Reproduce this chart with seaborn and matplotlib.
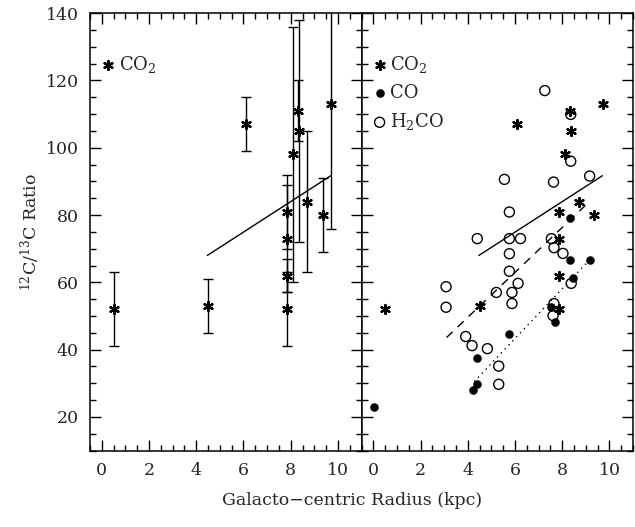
import matplotlib
matplotlib.use("Agg")
import matplotlib.pyplot as plt
import seaborn as sns
import pandas as pd
from matplotlib.ticker import MultipleLocator

# ---------------- data ----------------
co2_r = [0.5, 4.5, 6.1, 7.85, 7.85, 7.85, 7.85, 8.1, 8.33, 8.36, 8.7, 9.35, 9.72]
co2_ratio = [52, 53, 107, 52, 62, 73, 81, 98, 111, 105, 84, 80, 113]
co2_err = [11, 8, 8, 11, 5, 16, 11, 38, 9, 33, 21, 11, 37]

co_r = [0.04, 4.39, 4.20, 4.40, 5.76, 7.54, 7.68, 8.31, 8.47, 9.16, 8.31]
co_ratio = [23.0, 37.6, 27.9, 29.7, 44.7, 52.6, 48.1, 66.7, 61.4, 66.7, 79.1]

h2co_r = [7.26, 8.36, 8.36, 5.55, 7.63, 9.16, 5.76, 4.40, 5.76, 6.23, 7.54,
          7.65, 8.03, 5.76, 5.76, 6.13, 5.21, 5.87, 5.87, 3.08, 3.08, 7.65,
          7.61, 8.38, 3.91, 4.18, 4.83, 5.31, 5.31]
h2co_ratio = [117.0, 109.9, 96.0, 90.6, 89.8, 91.6, 80.9, 73.0, 73.0, 73.0, 73.0,
              70.3, 68.6, 68.5, 63.3, 59.7, 57.0, 57.0, 53.7, 58.7, 52.6, 53.7,
              50.1, 59.7, 43.9, 41.2, 40.3, 35.1, 29.7]

# fit lines (end points)
fit_co2_r = [4.47, 9.70]
fit_co2_ratio = [68.0, 91.7]
fit_h2co_r = [3.10, 9.15]
fit_h2co_ratio = [43.6, 84.0]
fit_co_r = [4.27, 9.16]
fit_co_ratio = [30.5, 66.7]

xticks = [0, 2, 4, 6, 8, 10]
yticks = [20, 40, 60, 80, 100, 120, 140]

# ---------------- style ----------------
sns.set_theme(style="ticks")
plt.rcParams["font.family"] = ["DejaVu Serif"]
plt.rcParams["mathtext.fontset"] = "dejavuserif"
plt.rcParams["axes.linewidth"] = 1.1

df_co2 = pd.DataFrame({"r": co2_r, "ratio": co2_ratio, "err": co2_err})
df_co = pd.DataFrame({"r": co_r, "ratio": co_ratio})
df_h2co = pd.DataFrame({"r": h2co_r, "ratio": h2co_ratio})

fig, axes = plt.subplots(1, 2, figsize=(6.35, 5.27), dpi=100, sharey=True)
fig.subplots_adjust(left=0.1417, right=0.997, top=0.975, bottom=0.145, wspace=0)

star = (6, 2, 0)
star_kw = dict(marker=star, color="black", s=42, linewidth=1.6)

# left panel
ax = axes[0]
ax.errorbar(df_co2["r"], df_co2["ratio"], yerr=df_co2["err"], fmt="none",
            ecolor="black", elinewidth=1.0, capsize=3.8, capthick=1.0)
sns.scatterplot(data=df_co2, x="r", y="ratio", ax=ax, label="CO$_2$", **star_kw)
sns.lineplot(x=fit_co2_r, y=fit_co2_ratio, ax=ax, color="black", lw=1.0)

# right panel
ax2 = axes[1]
sns.scatterplot(data=df_co2, x="r", y="ratio", ax=ax2, label="CO$_2$", **star_kw)
sns.scatterplot(data=df_co, x="r", y="ratio", ax=ax2, label="CO",
                marker="o", color="black", s=38, linewidth=0)
sns.scatterplot(data=df_h2co, x="r", y="ratio", ax=ax2, label="H$_2$CO",
                marker="o", fc="none", ec="black", s=52, linewidth=1.0)
sns.lineplot(x=fit_co2_r, y=fit_co2_ratio, ax=ax2, color="black", lw=1.0)
sns.lineplot(x=fit_h2co_r, y=fit_h2co_ratio, ax=ax2, color="black", lw=1.0,
             linestyle=(0, (6, 5)))
sns.lineplot(x=fit_co_r, y=fit_co_ratio, ax=ax2, color="black", lw=1.0,
             linestyle=(0, (1, 3)))

for a in axes:
    a.set_xlim(-0.5, 11)
    a.set_ylim(10, 140)
    a.set_xticks(xticks)
    a.set_yticks(yticks)
    a.xaxis.set_minor_locator(MultipleLocator(0.5))
    a.yaxis.set_minor_locator(MultipleLocator(5))
    a.tick_params(which="both", direction="in", top=True, right=True,
                  color="black", width=1.0, labelsize=12.5, pad=8)
    a.tick_params(which="major", length=8)
    a.tick_params(which="minor", length=4)
    a.set_xlabel("")
    a.set_ylabel("")
    for s in a.spines.values():
        s.set_color("black")
    a.legend(loc="upper left", frameon=False, fontsize=13, handletextpad=0.1,
             borderaxespad=0.0, borderpad=0.2, labelspacing=0.5, handlelength=1.0,
             bbox_to_anchor=(0.02, 0.915))

axes[0].set_ylabel("$^{12}$C/$^{13}$C Ratio", fontsize=12.5, labelpad=3)
fig.text(0.555, 0.05, "Galacto\u2212centric Radius (kpc)", ha="center",
         va="center", fontsize=12.5)

fig.savefig("out.png", dpi=100)
